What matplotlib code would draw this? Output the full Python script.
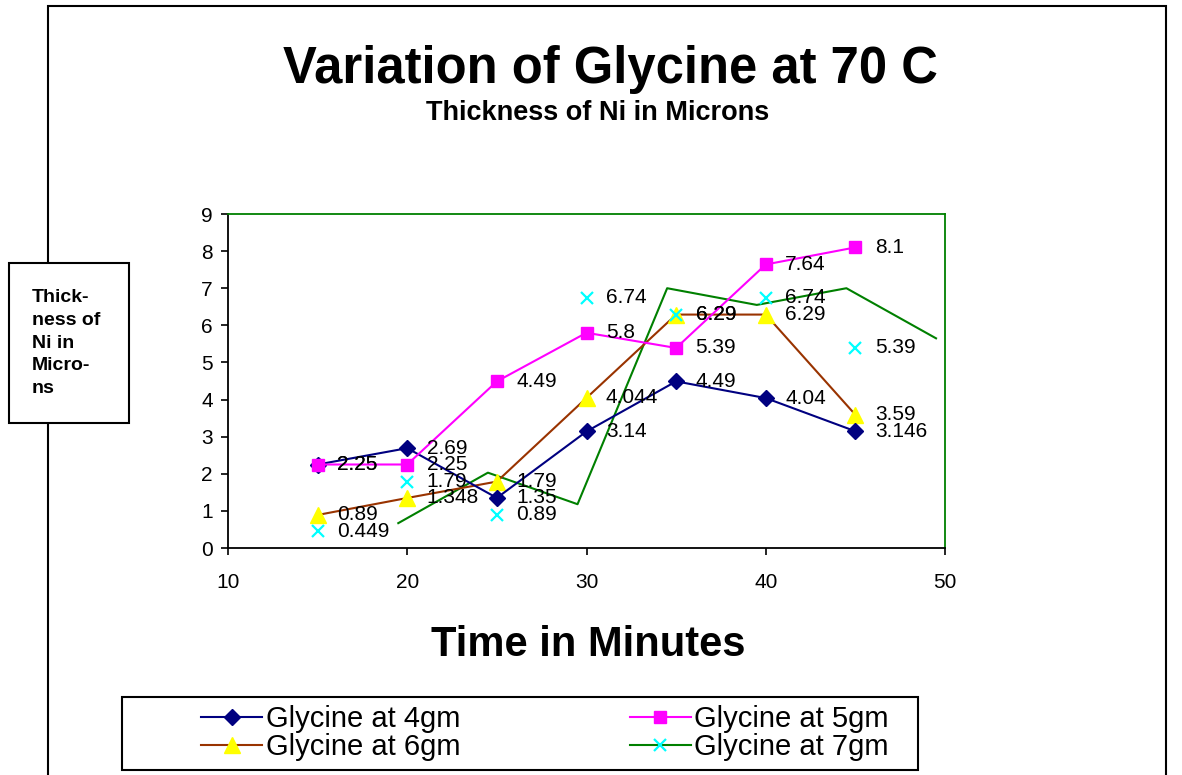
import matplotlib
matplotlib.use("Agg")
import matplotlib.pyplot as plt
from matplotlib.lines import Line2D
from matplotlib.patches import Rectangle

plt.rcParams['font.family'] = ['Liberation Sans', 'DejaVu Sans']

# ---- data ----
time_min = [15, 20, 25, 30, 35, 40, 45]
gly_4gm = [2.25, 2.69, 1.35, 3.14, 4.49, 4.04, 3.146]
gly_5gm = [2.25, 2.25, 4.49, 5.8, 5.39, 7.64, 8.1]
gly_6gm = [0.89, 1.348, 1.79, 4.044, 6.29, 6.29, 3.59]
gly_7gm = [0.449, 1.79, 0.89, 6.74, 6.29, 6.74, 5.39]
# green line drawn for the 7gm series (as it appears in the chart)
line7_x = [19.5, 24.5, 29.5, 34.5, 39.5, 44.5, 49.5]
line7_y = [0.67, 2.03, 1.18, 7.0, 6.55, 7.0, 5.65]
x_ticks = [10, 20, 30, 40, 50]
y_ticks = [0, 1, 2, 3, 4, 5, 6, 7, 8, 9]
series_names = ["Glycine at 4gm", "Glycine at 5gm", "Glycine at 6gm", "Glycine at 7gm"]

W, H = 1182, 775
fig = plt.figure(figsize=(W / 100, H / 100), dpi=100)

def fx(px):
    return px / W

def fy(py):
    return 1 - py / H

# outer chart border
fig.patches.append(Rectangle((fx(48), fy(790)), fx(1166) - fx(48), fy(6) - fy(790),
                             transform=fig.transFigure, fill=False, edgecolor='black',
                             linewidth=1.5, zorder=0))

ax = fig.add_axes([fx(228), fy(548), fx(945) - fx(228), fy(214) - fy(548)])
ax.set_xlim(10, 50)
ax.set_ylim(0, 9)
ax.set_xticks(x_ticks)
ax.set_yticks(y_ticks)
ax.tick_params(axis='both', direction='out', length=5, width=1.2, labelsize=15, colors='black')
ax.tick_params(axis='x', pad=13)
ax.tick_params(axis='y', pad=6)
for s in ['top', 'right']:
    ax.spines[s].set_color('#008000')
    ax.spines[s].set_linewidth(1.3)
for s in ['left', 'bottom']:
    ax.spines[s].set_color('black')
    ax.spines[s].set_linewidth(1.3)

c4, c5, c6l, c6m, c7m, c7l = '#000080', '#FF00FF', '#993300', '#FFFF00', '#00FFFF', '#008000'

ax.plot(line7_x, line7_y, color=c7l, lw=1.5, zorder=2, clip_on=False)
ax.plot(time_min, gly_6gm, color=c6l, lw=1.5, marker='^', ms=11, mfc=c6m, mec=c6m, zorder=3)
ax.plot(time_min, gly_4gm, color=c4, lw=1.5, marker='D', ms=8, mfc=c4, mec=c4, zorder=4)
ax.plot(time_min, gly_5gm, color=c5, lw=1.5, marker='s', ms=9, mfc=c5, mec=c5, zorder=4)
ax.plot(time_min, gly_7gm, linestyle='none', marker='x', ms=9, mew=1.6, color=c7m, zorder=5)

for ys in (gly_4gm, gly_5gm, gly_6gm, gly_7gm):
    for xv, yv in zip(time_min, ys):
        ax.annotate(f"{yv:g}", (xv, yv), xytext=(14, 0), textcoords='offset points',
                    ha='left', va='center', fontsize=15, color='black', zorder=6)

# titles
fig.text(fx(610), fy(83), "Variation of Glycine at 70 C", ha='center', va='baseline',
         fontsize=36.5, fontweight='bold')
fig.text(fx(598), fy(120), "Thickness of Ni in Microns", ha='center', va='baseline',
         fontsize=19.5, fontweight='bold')
fig.text(fx(588), fy(656), "Time in Minutes", ha='center', va='baseline',
         fontsize=30, fontweight='bold')

# y-label box
fig.patches.append(Rectangle((fx(9), fy(423)), fx(129) - fx(9), fy(263) - fy(423),
                             transform=fig.transFigure, facecolor='white', edgecolor='black',
                             linewidth=1.5, zorder=1))
fig.text(fx(32), fy(343), "Thick-\nness of\nNi in\nMicro-\nns", ha='left', va='center',
         fontsize=14, fontweight='bold', linespacing=1.45, zorder=2)

# legend
h4 = Line2D([], [], color=c4, lw=1.5, marker='D', ms=8, mfc=c4, mec=c4)
h5 = Line2D([], [], color=c5, lw=1.5, marker='s', ms=9, mfc=c5, mec=c5)
h6 = Line2D([], [], color=c6l, lw=1.5, marker='^', ms=11, mfc=c6m, mec=c6m)
h7 = Line2D([], [], color=c7l, lw=1.5, marker='x', ms=9, mew=1.6, mec=c7m)
fig.patches.append(Rectangle((fx(122), fy(770)), fx(918) - fx(122), fy(697) - fy(770),
                             transform=fig.transFigure, facecolor='white', edgecolor='black',
                             linewidth=1.5, zorder=1))
leg = fig.legend([h4, h6, h5, h7],
                 [series_names[0], series_names[2], series_names[1], series_names[3]],
                 ncol=2, loc='center', bbox_to_anchor=(fx(545), fy(733)),
                 frameon=False, fontsize=21, handlelength=2.1, handletextpad=0.12,
                 columnspacing=5.8, labelspacing=0.0, borderpad=0)

fig.savefig("out.png", dpi=100)
